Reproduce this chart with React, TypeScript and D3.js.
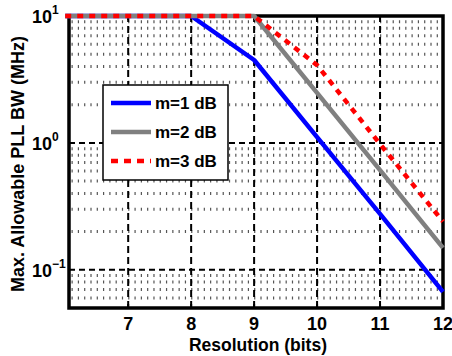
import { scaleLinear, scaleLog, line, range } from 'd3';

// resolution in bits
const bits = [6, 7, 8, 9, 10, 11, 12];
// max allowable PLL bandwidth (MHz) per margin
const m1 = [10, 10, 10, 4.5, 1.11, 0.276, 0.067];
const m2 = [10, 10, 10, 10, 2.48, 0.61, 0.149];
const m3 = [10, 10, 10, 10, 4.1, 0.98, 0.24];
const seriesNames = ['m=1 dB', 'm=2 dB', 'm=3 dB'];
const xTicks = [7, 8, 9, 10, 11, 12];
const yDecades = [1, 0, -1];

const W = 452;
const H = 356;
const FONT = '"Liberation Sans", Arial, sans-serif';

export default function App() {
    const x = scaleLinear().domain([6.06, 12]).range([69, 443]);
    const y = scaleLog().domain([0.05, 10]).range([308, 16]);
    const [x0, x1] = x.range();
    const [y0, y1] = y.range();

    const lineGen = line<number>()
        .x((d, i) => x(bits[i]))
        .y((d) => y(d));

    // minor grid values 2..9 per decade inside the domain
    const minorY: number[] = [];
    [0.01, 0.1, 1].forEach((dec) => {
        range(2, 10).forEach((k) => {
            const v = dec * k;
            if (v > 0.05 && v < 10) minorY.push(v);
        });
    });
    const step = x(6.1) - x(6.0);
    const dotOffset = -((x(6.1) - x0) % step);

    const series = [
        { name: seriesNames[0], data: m1, color: '#0000ff', dash: undefined },
        { name: seriesNames[1], data: m2, color: '#808080', dash: undefined },
        { name: seriesNames[2], data: m3, color: '#ff0000', dash: '6 6' },
    ];

    return (
        <svg width={W} height={H} style={{ position: 'absolute', left: 0, top: 0, background: '#fff' }}>
            <rect x={0} y={0} width={W} height={H} fill="#fff" />
            {/* minor grid */}
            {minorY.map((v) => (
                <line key={'mg' + v} x1={x0} x2={x1} y1={y(v)} y2={y(v)} stroke="#555" strokeWidth={3}
                    strokeDasharray={`1.2 ${step - 1.2}`} strokeDashoffset={dotOffset} />
            ))}
            {/* major grid */}
            {xTicks.filter((t) => t < 12).map((t) => (
                <line key={'vx' + t} x1={x(t)} x2={x(t)} y1={y0} y2={y1} stroke="#000" strokeWidth={2}
                    strokeDasharray="7 4" />
            ))}
            {yDecades.filter((d) => d < 1).map((d) => (
                <line key={'hy' + d} x1={x0} x2={x1} y1={y(Math.pow(10, d))} y2={y(Math.pow(10, d))}
                    stroke="#000" strokeWidth={2} strokeDasharray="6 4" />
            ))}
            {/* axes box */}
            <rect x={x0} y={y1} width={x1 - x0} height={y0 - y1} fill="none" stroke="#000" strokeWidth={3.5} />
            {/* inward ticks */}
            {xTicks.map((t) => (
                <g key={'tk' + t}>
                    <line x1={x(t)} x2={x(t)} y1={y0} y2={y0 - 4} stroke="#000" strokeWidth={2} />
                    <line x1={x(t)} x2={x(t)} y1={y1} y2={y1 + 4} stroke="#000" strokeWidth={2} />
                </g>
            ))}
            {/* data */}
            {series.map((s) => (
                <path key={s.name} d={lineGen(s.data) || ''} fill="none" stroke={s.color} strokeWidth={4.5}
                    strokeDasharray={s.dash} strokeLinejoin="round" />
            ))}
            {/* x tick labels */}
            {xTicks.map((t) => (
                <text key={'xl' + t} x={x(t)} y={330} textAnchor="middle" fontFamily={FONT} fontWeight="bold"
                    fontSize={18}>{t}</text>
            ))}
            {/* y tick labels */}
            {yDecades.map((d) => (
                <text key={'yl' + d} x={32} y={y(Math.pow(10, d)) + 7} fontFamily={FONT} fontWeight="bold" fontSize={18}>
                    10<tspan dy={-9} fontSize={12}>{d < 0 ? '\u2212' + Math.abs(d) : d}</tspan>
                </text>
            ))}
            <text x={(x0 + x1) / 2 + 2} y={351} textAnchor="middle" fontFamily={FONT} fontWeight="bold" fontSize={17.5}>
                Resolution (bits)
            </text>
            <text transform={`translate(24,${(y0 + y1) / 2 + 2}) rotate(-90)`} textAnchor="middle" fontFamily={FONT}
                fontWeight="bold" fontSize={18}>
                Max. Allowable PLL BW (MHz)
            </text>
            {/* legend */}
            <g>
                <rect x={103} y={85} width={125} height={95} fill="#fff" stroke="#000" strokeWidth={1.5} />
                {series.map((s, i) => (
                    <g key={'lg' + s.name} transform={`translate(0,${103 + i * 29})`}>
                        <line x1={111} x2={151} y1={0} y2={0} stroke={s.color} strokeWidth={4.5}
                            strokeDasharray={s.dash ? '7 6' : undefined} />
                        <text x={155} y={6} fontFamily={FONT} fontWeight="bold" fontSize={17}>{s.name}</text>
                    </g>
                ))}
            </g>
        </svg>
    );
}
